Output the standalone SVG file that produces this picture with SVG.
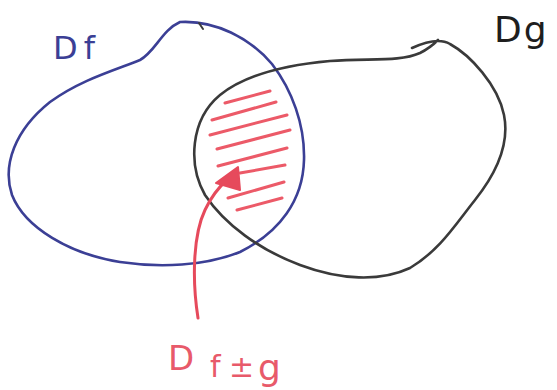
<svg xmlns="http://www.w3.org/2000/svg" width="557" height="390" viewBox="0 0 557 390">
<style>
.blue{fill:none;stroke:#3b3f95;stroke-width:2.6;stroke-linecap:round;stroke-linejoin:round}
.black{fill:none;stroke:#3a3a3a;stroke-width:2.6;stroke-linecap:round;stroke-linejoin:round}
.hatch{fill:none;stroke:#ec5a68;stroke-width:3;stroke-linecap:round}
.red{fill:none;stroke:#e64a5c;stroke-width:3;stroke-linecap:round}
.lbl{font-family:"DejaVu Sans","Liberation Sans",sans-serif;font-weight:normal}
</style>
<rect width="557" height="390" fill="#ffffff"/>
<g id="Df">
<path class="blue" d="M180,22 C215,20 250,38 272,64 C292,90 305,125 304,160 C303,200 280,232 240,252 C205,266 160,268 120,262 C70,254 25,228 12,195 C2,165 15,130 50,102 C80,80 115,70 140,60 C155,52 162,30 180,22 Z"/>
<path class="black" style="stroke-width:2" d="M199,23 L203,29"/>
<text class="lbl" x="53" y="59" font-size="32" fill="#3b3f95">D<tspan dx="6">f</tspan></text>
</g>
<g id="Dg">
<path class="black" d="M412,48 C425,42 440,38 450,44 C470,55 498,85 504,115 C510,145 495,175 475,200 C455,225 440,250 410,268 C380,282 340,280 300,265 C260,250 225,225 205,195 C188,165 190,120 220,95 C245,75 285,65 330,61 C370,58 400,62 420,53 C428,49 433,45 438,40"/>
<text class="lbl" x="494" y="42" font-size="36" fill="#1e1e1e">D<tspan dx="2">g</tspan></text>
</g>
<g id="intersection">
<path class="hatch" d="M225,103 L270,91 M212,120 L276,102 M210,135 L287,115 M217,149 L290,130 M218,166 L287,148 M240,173 L285,165 M228,198 L284,182 M237,210 L282,198"/>
</g>
<g id="Dfg-label">
<text class="lbl" fill="#e85a6a"><tspan x="168" y="370" font-size="34">D</tspan><tspan x="210" y="377" font-size="30">f</tspan><tspan x="229" y="377" font-size="30">±</tspan><tspan x="258" y="380" font-size="36">g</tspan></text>
</g>
<g id="connectors">
<path class="red" d="M198,318 C192,280 193,235 205,210 C212,195 220,186 228,179"/>
<polygon points="216,183 238,167 240,190" fill="#e64a5c" stroke="#e64a5c" stroke-width="2" stroke-linejoin="round"/>
</g>
</svg>
